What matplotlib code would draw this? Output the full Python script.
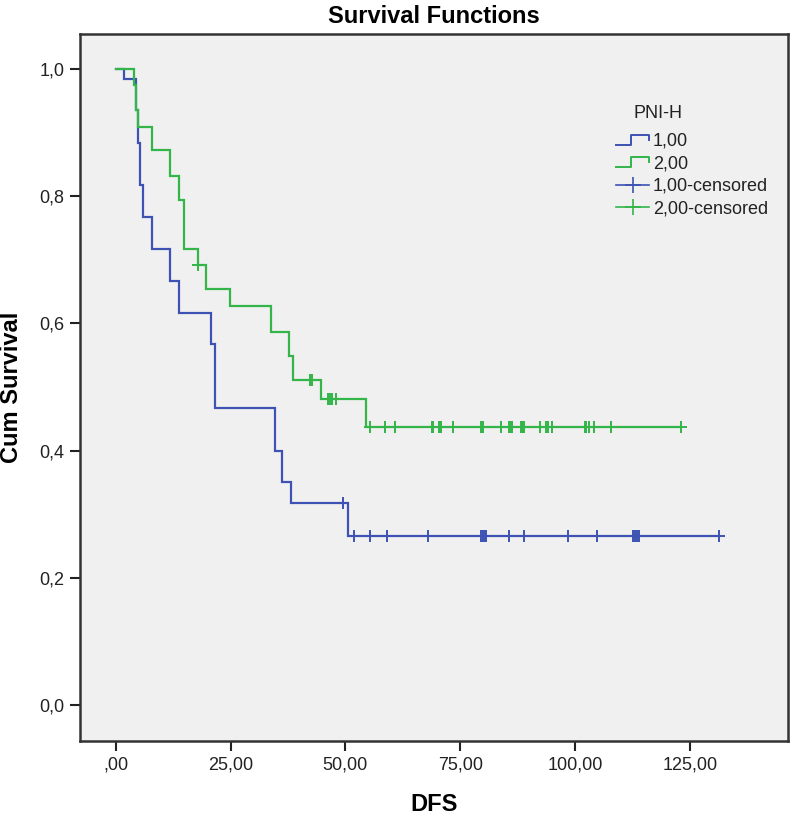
import numpy as np
import matplotlib
matplotlib.use("Agg")
import matplotlib.pyplot as plt
from matplotlib.lines import Line2D
from matplotlib.legend_handler import HandlerBase

plt.rcParams['font.family'] = ['Liberation Sans', 'DejaVu Sans']

# ---- data ----
blue_event_times = [1.8, 4.4, 4.9, 5.2, 5.9, 7.8, 11.9, 13.8, 20.8, 21.7, 34.7, 36.2, 38.1, 50.6]
blue_surv = [0.984, 0.935, 0.883, 0.817, 0.767, 0.717, 0.667, 0.617, 0.567, 0.467, 0.400, 0.350, 0.317, 0.265]
blue_censor = [49.5, 51.9, 55.3, 59.1, 68.0, 79.5, 80.0, 80.4, 80.6, 85.6, 89.0, 98.5,
               104.7, 112.7, 113.1, 113.6, 113.9, 131.4]

green_event_times = [4.0, 4.4, 4.9, 7.9, 11.9, 13.8, 14.8, 17.9, 19.7, 24.8, 33.8, 37.8, 38.6, 44.6, 54.5]
green_surv = [0.975, 0.935, 0.909, 0.873, 0.832, 0.794, 0.717, 0.692, 0.654, 0.627, 0.587, 0.549,
              0.511, 0.481, 0.437]
green_censor = [18.0, 42.4, 42.8, 46.3, 46.6, 47.1, 47.9, 55.3, 58.6, 60.8, 68.8, 69.1, 70.4, 70.6,
                70.8, 73.5, 79.5, 79.8, 80.0, 83.9, 85.6, 86.1, 86.3, 88.2, 88.5, 88.7, 89.0, 92.4,
                93.8, 94.1, 95.1, 102.2, 102.5, 103.0, 104.2, 107.8, 123.1]

group_labels = ['1,00', '2,00', '1,00-censored', '2,00-censored']
legend_title = 'PNI-H'
x_ticks = [0, 25, 50, 75, 100, 125]
x_tick_labels = [',00', '25,00', '50,00', '75,00', '100,00', '125,00']
y_ticks = [0.0, 0.2, 0.4, 0.6, 0.8, 1.0]
y_tick_labels = ['0,0', '0,2', '0,4', '0,6', '0,8', '1,0']

BLUE = '#3d52b3'
GREEN = '#33b54a'

fig = plt.figure(figsize=(7.92, 8.15), dpi=100)
ax = fig.add_axes([80/792, 1-741/815, (788-80)/792, (741-34)/815])
ax.set_facecolor('#f0f0f0')


def km_curve(ax, ev_t, surv, cens, color):
    t = np.concatenate([[0.0], ev_t])
    s = np.concatenate([[1.0], surv])
    t_end = max(cens)
    tt = np.concatenate([t, [t_end]])
    ss = np.concatenate([s, [s[-1]]])
    ax.step(tt, ss, where='post', color=color, lw=1.6, solid_joinstyle='miter')
    idx = np.searchsorted(t, np.asarray(cens), side='right') - 1
    ax.plot(cens, s[idx], linestyle='none', marker='+', markersize=9,
            markeredgewidth=1.4, color=color)


km_curve(ax, blue_event_times, blue_surv, blue_censor, BLUE)
km_curve(ax, green_event_times, green_surv, green_censor, GREEN)

ax.set_xlim(-7.8, 146.4)
ax.set_ylim(-0.0566, 1.055)
ax.set_xticks(x_ticks)
ax.set_xticklabels(x_tick_labels)
ax.set_yticks(y_ticks)
ax.set_yticklabels(y_tick_labels)
ax.tick_params(direction='out', length=7, width=1.5, color='#222222',
               labelsize=13, labelcolor='#222222', pad=4)
for sp in ax.spines.values():
    sp.set_linewidth(1.8)
    sp.set_color('#333333')

ax.set_xlabel('DFS', fontsize=17, fontweight='bold', labelpad=14)
ax.set_ylabel('Cum Survival', fontsize=17, fontweight='bold', labelpad=12)
ax.set_title('Survival Functions', fontsize=17, fontweight='bold', pad=8)


class StepHandler(HandlerBase):
    def create_artists(self, legend, orig_handle, xdescent, ydescent, width, height,
                       fontsize, trans):
        x0 = -xdescent
        x1 = x0 + width
        ylo = -ydescent + 0.1 * height
        yhi = -ydescent + 0.9 * height
        xm = x0 + 0.45 * width
        xs = [x0, xm, xm, x1, x1]
        ys = [ylo, ylo, yhi, yhi, 0.5 * (ylo + yhi)]
        ln = Line2D(xs, ys, color=orig_handle.get_color(), lw=1.4)
        ln.set_transform(trans)
        return [ln]


h1 = Line2D([], [], color=BLUE)
h2 = Line2D([], [], color=GREEN)
h3 = Line2D([], [], color=BLUE, marker='+', markersize=12, markeredgewidth=1.2, lw=1.2)
h4 = Line2D([], [], color=GREEN, marker='+', markersize=12, markeredgewidth=1.2, lw=1.2)
leg = ax.legend([h1, h2, h3, h4], group_labels,
                handler_map={h1: StepHandler(), h2: StepHandler()},
                loc='upper left', bbox_to_anchor=(616/792, 1-133/815),
                bbox_transform=fig.transFigure, frameon=False, fontsize=13,
                handlelength=1.85, handletextpad=0.2, labelspacing=0.3,
                borderpad=0, borderaxespad=0, numpoints=1)
for t in leg.get_texts():
    t.set_color('#222222')
fig.text(658/792, 1-113/815, legend_title, ha='center', va='center', fontsize=13,
         color='#222222')

fig.savefig('out.png', dpi=100, facecolor='white')
